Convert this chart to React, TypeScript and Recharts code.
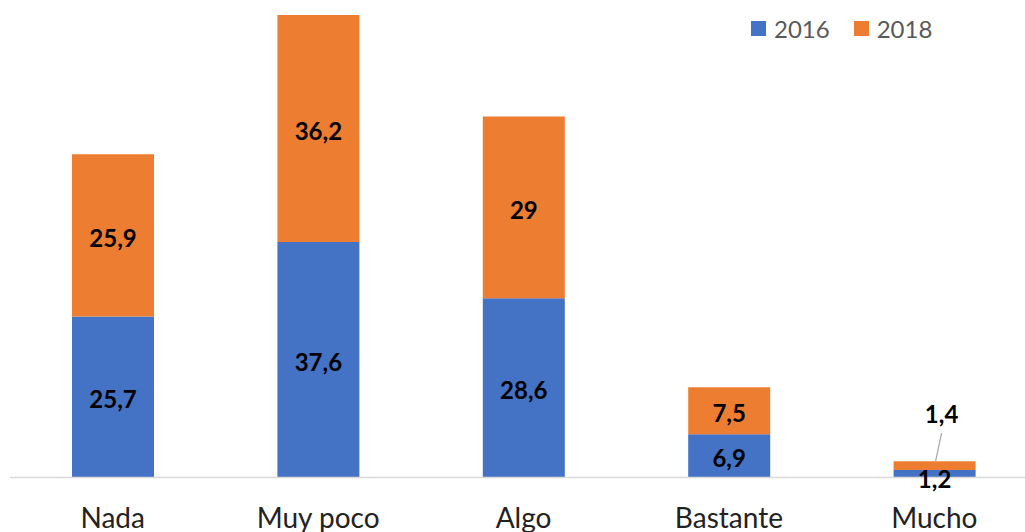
import React from "react";
import { BarChart, Bar, XAxis, YAxis, LabelList } from "recharts";

const categories = ["Nada", "Muy poco", "Algo", "Bastante", "Mucho"];
const values2016 = [25.7, 37.6, 28.6, 6.9, 1.2];
const values2018 = [25.9, 36.2, 29, 7.5, 1.4];
const seriesNames = ["2016", "2018"];
const colors = ["#4472C4", "#ED7D31"];

const data = categories.map((c, i) => ({
  name: c,
  s2016: values2016[i],
  s2018: values2018[i],
}));

const FONT = "Lato, 'Open Sans', sans-serif";
const fmt = (v: number) => String(v).replace(".", ",");

const makeLabel = (series: number) => (props: any) => {
  const { x, y, width, height, value, index } = props;
  const cx = Number(x) + Number(width) / 2;
  const cy = Number(y) + Number(height) / 2;
  const last = index === categories.length - 1;
  if (last && series === 1) {
    const lx = cx + 7;
    const ly = Number(y) - 48;
    return (
      <g>
        <line x1={lx} y1={ly + 20} x2={cx + 1} y2={Number(y)} stroke="#a6a6a6" strokeWidth={1.2} />
        <text x={lx} y={ly} textAnchor="middle" dominantBaseline="central" fontFamily={FONT} fontWeight={700} fontSize={24} fill="#000">
          {fmt(value)}
        </text>
      </g>
    );
  }
  const dy = last ? 5 : 2;
  return (
    <text x={cx} y={cy + dy} textAnchor="middle" dominantBaseline="central" fontFamily={FONT} fontWeight={700} fontSize={24} fill="#000">
      {fmt(value)}
    </text>
  );
};

export default function App() {
  return (
    <div style={{ position: "absolute", left: 0, top: 0, width: 1025, height: 532, overflow: "hidden", background: "#fff" }}>
      <BarChart
        width={1050}
        height={532}
        data={data}
        margin={{ top: 7.6, right: 13, left: 10, bottom: 0 }}
        barSize={82}
      >
        <XAxis
          dataKey="name"
          height={54.5}
          axisLine={{ stroke: "#d9d9d9", strokeWidth: 1.5 }}
          tickLine={false}
          tickSize={0}
          tickMargin={31}
          tick={{ fontFamily: FONT, fontSize: 28, fill: "#222" }}
          interval={0}
        />
        <YAxis hide domain={[0, 75]} />
        <Bar dataKey="s2016" name="2016" stackId="a" fill={colors[0]} isAnimationActive={false}>
          <LabelList dataKey="s2016" content={makeLabel(0)} />
        </Bar>
        <Bar dataKey="s2018" name="2018" stackId="a" fill={colors[1]} isAnimationActive={false}>
          <LabelList dataKey="s2018" content={makeLabel(1)} />
        </Bar>
      </BarChart>
      <div style={{ position: "absolute", top: 14, left: 751, display: "flex", alignItems: "center", fontFamily: FONT, fontSize: 24, color: "#595959" }}>
        {seriesNames.map((n, i) => (
          <div key={n} style={{ display: "flex", alignItems: "center", marginRight: i === 0 ? 24 : 0 }}>
            <span style={{ display: "inline-block", width: 15, height: 15, background: colors[i], marginRight: 8 }} />
            <span>{n}</span>
          </div>
        ))}
      </div>
    </div>
  );
}
